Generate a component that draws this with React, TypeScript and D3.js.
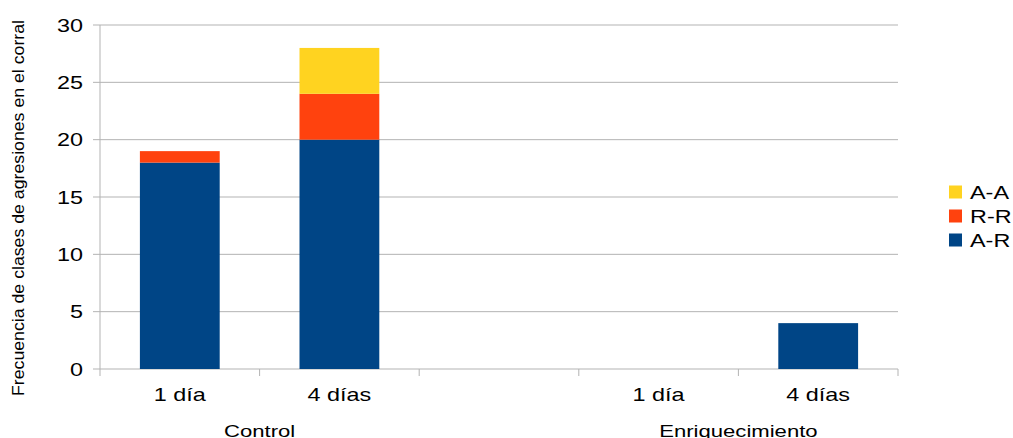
import React from "react";
import * as d3 from "d3";

const slots = ["c1", "c4", "gap", "e1", "e4"];
const slotLabels = ["1 día", "4 días", "", "1 día", "4 días"];
const groups = [
  { name: "Control", from: "c1", to: "c4" },
  { name: "Enriquecimiento", from: "e1", to: "e4" },
];
const seriesNames = ["A-R", "R-R", "A-A"];
const AR = [18, 20, 0, 0, 4];
const RR = [1, 4, 0, 0, 0];
const AA = [0, 4, 0, 0, 0];
const colors = ["#004586", "#ff420e", "#ffd320"];
const yTicks = [0, 5, 10, 15, 20, 25, 30];
const yTitle = "Frecuencia de clases de agresiones en el corral";

const SX = 1.3;

function WText({ x, y, anchor = "start", size = 18, children }: any) {
  return (
    <text transform={`translate(${x},${y}) scale(${SX},1)`} textAnchor={anchor} fontSize={size} fill="#000">
      {children}
    </text>
  );
}

export default function App() {
  const W = 1013, H = 438;
  const left = 100, right = 898, top = 25, bottom = 369;
  const x = d3.scaleBand<string>().domain(slots).range([left, right]).paddingInner(0).paddingOuter(0);
  const y = d3.scaleLinear().domain([0, 30]).range([bottom, top]);
  const rows = slots.map((s, i) => ({ slot: s, "A-R": AR[i], "R-R": RR[i], "A-A": AA[i] }));
  const stack = d3.stack<any>().keys(seriesNames)(rows);
  const bw = x.bandwidth() * 0.5;
  const boundaries = slots.map((s) => x(s)!).concat([right]);
  const font = "'Liberation Sans', Arial, sans-serif";
  return (
    <svg width={W} height={H} style={{ position: "absolute", left: 0, top: 0 }} fontFamily={font}>
      <rect width={W} height={H} fill="#fff" />
      {yTicks.map((t) => (
        <g key={t}>
          <line x1={93} x2={right} y1={y(t)} y2={y(t)} stroke="#b3b3b3" strokeWidth={1} />
          <WText x={83} y={y(t) + 6.5} anchor="end">{t}</WText>
        </g>
      ))}
      <line x1={left} x2={left} y1={top} y2={bottom} stroke="#b3b3b3" />
      {boundaries.map((b, i) => (
        <line key={i} x1={b} x2={b} y1={bottom} y2={bottom + 7} stroke="#b3b3b3" />
      ))}
      {stack.map((ser, si) =>
        ser.map((d, i) =>
          d[1] - d[0] > 0 ? (
            <rect key={si + "-" + i} x={x(slots[i])! + (x.bandwidth() - bw) / 2} width={bw}
              y={y(d[1])} height={y(d[0]) - y(d[1])} fill={colors[si]} />
          ) : null
        )
      )}
      {slots.map((s, i) => (
        <WText key={s} x={x(s)! + x.bandwidth() / 2} y={401} anchor="middle">{slotLabels[i]}</WText>
      ))}
      {groups.map((g) => (
        <WText key={g.name} x={(x(g.from)! + x(g.to)! + x.bandwidth()) / 2} y={436.5} anchor="middle" size={17}>{g.name}</WText>
      ))}
      <text transform={`translate(24,208) rotate(-90)`} textAnchor="middle" fontSize={16} textLength={376} lengthAdjust="spacingAndGlyphs" fill="#000">{yTitle}</text>
      {[...seriesNames].reverse().map((n, i) => {
        const ci = seriesNames.length - 1 - i;
        const cy = 192 + i * 24;
        return (
          <g key={n}>
            <rect x={949} y={cy - 6.5} width={13} height={13} fill={colors[ci]} />
            <WText x={970} y={cy + 6.5}>{n}</WText>
          </g>
        );
      })}
    </svg>
  );
}
